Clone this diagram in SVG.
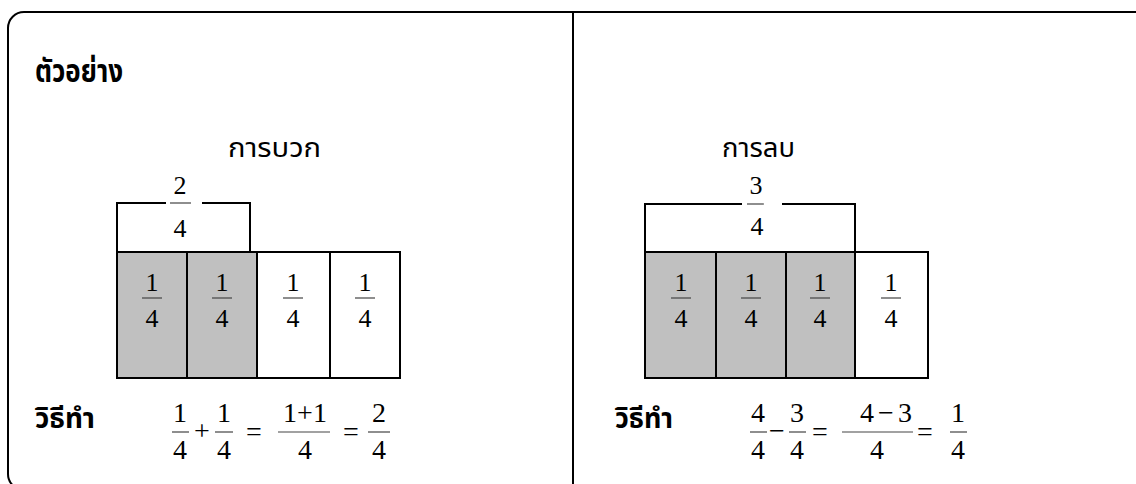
<svg xmlns="http://www.w3.org/2000/svg" width="1136" height="484" viewBox="0 0 1136 484">
<style>
.th{font-family:"Noto Sans Thai","Noto Serif Thai","Loma","Garuda","Norasi","Tlwg Typo","DejaVu Sans",sans-serif;fill:#000}
.b{font-weight:bold}
.m{font-family:"Liberation Serif","Times New Roman",serif;font-size:26px;fill:#000;text-anchor:middle}
.f{font-size:28px}
.ln{stroke:#000;stroke-width:2;fill:none}
.bar{stroke:#444;stroke-width:1.2}
.grey{fill:#c0c0c0;stroke:#000;stroke-width:2}
.white{fill:#fff;stroke:#000;stroke-width:2}
</style>
<g id="frame">
<rect x="8" y="12" width="1142" height="478" rx="16" ry="16" class="ln"/>
<line x1="573" y1="12" x2="573" y2="484" class="ln"/>
</g>
<g id="title"><text x="35" y="82" class="th b" font-size="31" textLength="88" lengthAdjust="spacingAndGlyphs">ตัวอย่าง</text></g>

<g id="addition">
<text x="228" y="157" class="th" font-size="27" textLength="93" lengthAdjust="spacingAndGlyphs">การบวก</text>
<g id="add-bracket">
<polyline points="117,252 117,203 166,203" class="ln"/>
<polyline points="202,203 250,203 250,253" class="ln"/>
<text x="180" y="194" class="m">2</text><line x1="170" y1="203" x2="191" y2="203" class="bar"/><text x="180" y="237" class="m">4</text>
</g>
<g id="add-boxes">
<rect x="117" y="252" width="70" height="126" class="grey"/>
<rect x="187" y="252" width="70" height="126" class="grey"/>
<rect x="257" y="252" width="73" height="126" class="white"/>
<rect x="330" y="252" width="70" height="126" class="white"/>
<text x="152" y="291" class="m">1</text><line x1="142" y1="298" x2="162" y2="298" class="bar"/><text x="152" y="327" class="m">4</text>
<text x="222" y="291" class="m">1</text><line x1="212" y1="298" x2="232" y2="298" class="bar"/><text x="222" y="327" class="m">4</text>
<text x="293" y="291" class="m">1</text><line x1="283" y1="298" x2="303" y2="298" class="bar"/><text x="293" y="327" class="m">4</text>
<text x="365" y="291" class="m">1</text><line x1="355" y1="298" x2="375" y2="298" class="bar"/><text x="365" y="327" class="m">4</text>
</g>
<g id="add-method">
<text x="35" y="428" class="th b" font-size="28" textLength="60" lengthAdjust="spacingAndGlyphs">วิธีทำ</text>
<text x="180" y="422" class="m f">1</text><line x1="172" y1="432" x2="189" y2="432" class="bar"/><text x="180" y="459" class="m f">4</text>
<text x="202" y="440" class="m f">+</text>
<text x="224" y="422" class="m f">1</text><line x1="215" y1="432" x2="233" y2="432" class="bar"/><text x="224" y="459" class="m f">4</text>
<text x="254" y="441" class="m f">=</text>
<text x="305" y="422" class="m f">1+1</text><line x1="278" y1="432" x2="330" y2="432" class="bar"/><text x="305" y="459" class="m f">4</text>
<text x="351" y="441" class="m f">=</text>
<text x="379" y="422" class="m f">2</text><line x1="368" y1="432" x2="390" y2="432" class="bar"/><text x="379" y="459" class="m f">4</text>
</g>
</g>

<g id="subtraction">
<text x="722" y="157" class="th" font-size="27" textLength="73" lengthAdjust="spacingAndGlyphs">การลบ</text>
<g id="sub-bracket">
<polyline points="645,252 645,204 742,204" class="ln"/>
<polyline points="782,204 855,204 855,252" class="ln"/>
<text x="756" y="194" class="m">3</text><line x1="747" y1="204" x2="764" y2="204" class="bar"/><text x="757" y="235" class="m">4</text>
</g>
<g id="sub-boxes">
<rect x="645" y="252" width="71" height="126" class="grey"/>
<rect x="716" y="252" width="70" height="126" class="grey"/>
<rect x="786" y="252" width="69" height="126" class="grey"/>
<rect x="855" y="252" width="73" height="126" class="white"/>
<text x="681" y="291" class="m">1</text><line x1="671" y1="298" x2="691" y2="298" class="bar"/><text x="681" y="327" class="m">4</text>
<text x="751" y="291" class="m">1</text><line x1="741" y1="298" x2="761" y2="298" class="bar"/><text x="751" y="327" class="m">4</text>
<text x="820" y="291" class="m">1</text><line x1="810" y1="298" x2="830" y2="298" class="bar"/><text x="820" y="327" class="m">4</text>
<text x="891" y="291" class="m">1</text><line x1="881" y1="298" x2="901" y2="298" class="bar"/><text x="891" y="327" class="m">4</text>
</g>
<g id="sub-method">
<text x="615" y="428" class="th b" font-size="28" textLength="58" lengthAdjust="spacingAndGlyphs">วิธีทำ</text>
<text x="758" y="422" class="m f">4</text><line x1="750" y1="432" x2="767" y2="432" class="bar"/><text x="758" y="459" class="m f">4</text>
<text x="777" y="440" class="m f">−</text>
<text x="797" y="422" class="m f">3</text><line x1="789" y1="432" x2="806" y2="432" class="bar"/><text x="797" y="459" class="m f">4</text>
<text x="820" y="441" class="m f">=</text>
<text x="886" y="422" class="m f" text-anchor="middle" textLength="52" lengthAdjust="spacing">4 − 3</text><line x1="842" y1="432" x2="913" y2="432" class="bar"/><text x="877" y="459" class="m f">4</text>
<text x="925" y="441" class="m f">=</text>
<text x="958" y="422" class="m f">1</text><line x1="950" y1="432" x2="967" y2="432" class="bar"/><text x="958" y="459" class="m f">4</text>
</g>
</g>
</svg>
